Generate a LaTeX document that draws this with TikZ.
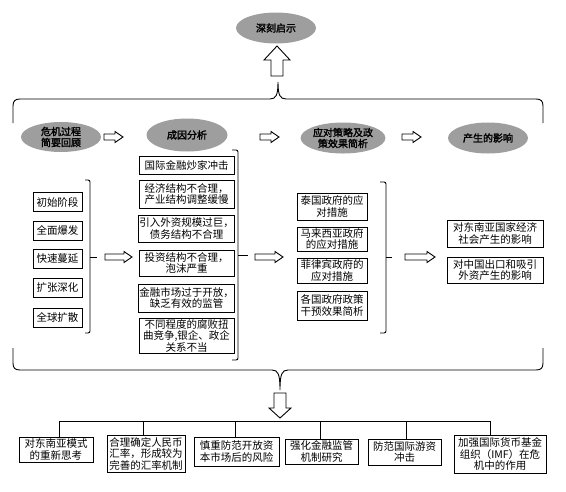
\documentclass[tikz,border=0pt]{standalone}
\usepackage{fontspec}
\usetikzlibrary{shapes.geometric}
\newfontfamily\cjk{Noto Sans CJK SC}
\newfontfamily\cjkb[FakeBold=2]{Noto Sans CJK SC}
\definecolor{ellg}{RGB}{158,158,158}
\tikzset{
  box/.style={draw, line width=0.9pt, inner sep=1pt, align=center,
    font=\cjk\fontsize{10.5}{11.5}\selectfont},
  ell/.style={ellipse, fill=ellg, inner sep=0pt, align=center,
    font=\cjkb\fontsize{10}{11}\selectfont},
  br/.style={line width=0.9pt},
  blk/.style={draw, line width=0.9pt, fill=white, line join=miter},
  tree/.style={line width=0.9pt}
}
\newcommand\harr[3]{%
  \draw[blk] (#1,{#3-3}) -- ({#2-8},{#3-3}) -- ({#2-8},{#3-5.5}) -- (#2,#3)
    -- ({#2-8},{#3+5.5}) -- ({#2-8},{#3+3}) -- (#1,{#3+3}) -- cycle;}
\begin{document}
\begin{tikzpicture}[x=1pt,y=-1pt]
\useasboundingbox (0,0) rectangle (566,491);

% ellipses
\node[ell, minimum width=80pt, minimum height=31pt] (e0) at (276,28) {深刻启示};
\node[ell, minimum width=80pt, minimum height=30pt] (e1) at (61,137) {危机过程\\简要回顾};
\node[ell, minimum width=81pt, minimum height=33pt] (e2) at (187,135) {成因分析};
\node[ell, minimum width=80pt, minimum height=31pt] (e3) at (343,138) {应对策略及政\\策效果简析};
\node[ell, minimum width=80pt, minimum height=31pt] (e4) at (488,138) {产生的影响};

% up arrow
\draw[blk] (277,46) -- (290,60) -- (283,60) -- (283,76) -- (271,76) -- (271,60) -- (264,60) -- cycle;

% top brace
\draw[br] (13,123) -- (13,106) .. controls (13,101) and (15,99) .. (20,99) -- (270,99)
  .. controls (276,99) and (278,95) .. (278,82)
  .. controls (278,95) and (280,99) .. (286,99) -- (536,99)
  .. controls (541,99) and (543,101) .. (543,106) -- (543,123);

% arrows between ellipses
\harr{104}{123}{137}
\harr{260}{279}{137}
\harr{402}{421}{137}

% left column
\node[box, minimum width=49pt, minimum height=19pt] (a1) at (57.5,202) {初始阶段};
\node[box, minimum width=49pt, minimum height=19pt] (a2) at (57.5,230.5) {全面爆发};
\node[box, minimum width=49pt, minimum height=19pt] (a3) at (57.5,259) {快速蔓延};
\node[box, minimum width=49pt, minimum height=19pt] (a4) at (57.5,288) {扩张深化};
\node[box, minimum width=49pt, minimum height=19pt] (a5) at (57.5,317.5) {全球扩散};
\draw[br, rounded corners=2pt] (85,180) -- (90,180) -- (90,333) -- (85,333);
\draw[br] (90,257) -- (97,257);
\harr{105}{132}{257}

% middle column
\node[box, minimum width=95pt, minimum height=18pt] (m1) at (186.5,165) {国际金融炒家冲击};
\node[box, minimum width=95pt, minimum height=28pt] (m2) at (186.5,194) {经济结构不合理，\\产业结构调整缓慢};
\node[box, minimum width=95pt, minimum height=27pt] (m3) at (186.5,228.5) {引入外资规模过巨，\\债务结构不合理};
\node[box, minimum width=95pt, minimum height=26pt] (m4) at (186.5,263) {投资结构不合理，\\泡沫严重};
\node[box, minimum width=95pt, minimum height=28pt] (m5) at (186.5,298) {金融市场过于开放，\\缺乏有效的监管};
\node[box, minimum width=95pt, minimum height=35pt] (m6) at (186.5,335.5) {不同程度的腐败扭\\曲竞争,银企、政企\\关系不当};
\draw[br, rounded corners=2pt] (232,150) -- (238,150) -- (238,360) -- (232,360);
\draw[br] (238,255) -- (248,255);
\harr{255}{283}{257}

% third column
\node[box, minimum width=70pt, minimum height=27pt] (r1) at (332,206.5) {泰国政府的应\\对措施};
\node[box, minimum width=70pt, minimum height=24pt] (r2) at (332,239) {马来西亚政府\\的应对措施};
\node[box, minimum width=70pt, minimum height=25pt] (r3) at (332,270.5) {菲律宾政府的\\应对措施};
\node[box, minimum width=70pt, minimum height=29pt] (r4) at (332,305.5) {各国政府政策\\干预效果简析};
\draw[br, rounded corners=2pt] (380,182) -- (386,182) -- (386,333) -- (380,333);
\draw[br] (386,257) -- (392,257);
\harr{405}{435}{257}

% right column
\node[box, minimum width=96pt, minimum height=27pt] (s1) at (495,233.5) {对东南亚国家经济\\社会产生的影响};
\node[box, minimum width=96pt, minimum height=26pt] (s2) at (495,270) {对中国出口和吸引\\外资产生的影响};

% bottom brace
\draw[br] (13,348) -- (13,363) .. controls (13,368) and (15,370) .. (20,370) -- (272,370)
  .. controls (278,370) and (280,374) .. (280,390)
  .. controls (280,374) and (282,370) .. (288,370) -- (536,370)
  .. controls (541,370) and (543,368) .. (543,363) -- (543,348);

% down arrow
\draw[blk] (274,393) -- (286,393) -- (286,408) -- (291,408) -- (280,418) -- (269,408) -- (274,408) -- cycle;

% bottom boxes
\node[box, minimum width=74pt, minimum height=25pt] (b1) at (56,449.5) {对东南亚模式\\的重新思考};
\node[box, minimum width=78pt, minimum height=37pt] (b2) at (146,453.5) {合理确定人民币\\汇率，形成较为\\完善的汇率机制};
\node[box, minimum width=85pt, minimum height=29pt] (b3) at (236.5,451.5) {慎重防范开放资\\本市场后的风险};
\node[box, minimum width=73pt, minimum height=25pt] (b4) at (321.5,451.5) {强化金融监管\\机制研究};
\node[box, minimum width=73pt, minimum height=26pt] (b5) at (404.5,452) {防范国际游资\\冲击};
\node[box, minimum width=92pt, minimum height=38pt] (b6) at (500,454) {加强国际货币基金\\组织（IMF）在危\\机中的作用};

% tree
\coordinate (t1) at (59,421);
\coordinate (t2) at (143,421);
\coordinate (t3) at (235,421);
\coordinate (t4) at (320,421);
\coordinate (t5) at (406,421);
\coordinate (t6) at (490,421);
\draw[tree] (t1) -- (t6);
\foreach \i in {1,...,6} {\draw[tree] (t\i) -- (t\i |- b\i.north);}

\end{tikzpicture}
\end{document}
